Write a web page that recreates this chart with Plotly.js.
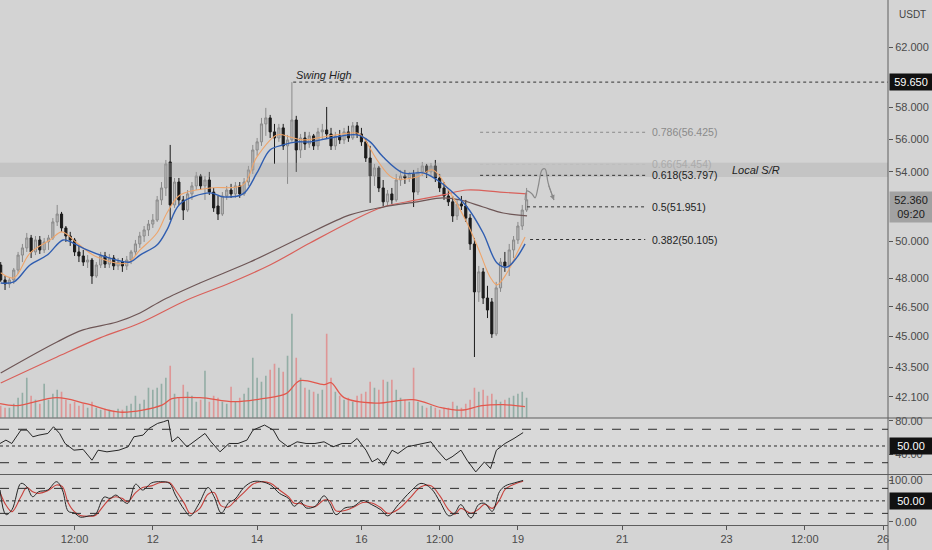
<!DOCTYPE html>
<html><head><meta charset="utf-8">
<script src="https://cdn.plot.ly/plotly-3.0.1.min.js"></script>
<style>html,body{margin:0;padding:0;background:#d4d4d4;}#chart{width:932px;height:550px;}</style>
</head><body><div id="chart"></div>
<script>
// ---------- DATA (2-hour candles, x = hours since day 9 00:00) ----------
const open = [48.71,47.91,47.70,47.91,48.44,49.25,49.64,50.19,49.42,50.08,
49.53,49.97,50.19,51.09,51.54,50.75,50.30,50.08,49.42,49.20,
48.87,48.98,48.12,48.71,49.20,48.76,49.09,48.66,48.87,48.66,
48.98,49.42,49.86,50.30,50.64,50.97,51.20,52.35,53.05,54.60,
52.06,53.40,52.35,51.77,52.70,53.17,53.76,53.17,53.52,52.81,
52.00,51.54,52.58,52.93,52.70,53.17,52.70,53.40,54.12,55.33,
55.83,56.95,57.33,56.45,56.07,56.70,55.58,55.95,57.20,55.33,
56.07,55.70,56.20,55.58,56.45,56.57,56.32,55.58,56.20,55.95,
56.45,56.07,56.83,56.32,55.83,54.84,53.76,54.24,53.05,52.24,
52.70,52.35,53.52,53.76,53.64,53.88,52.81,54.00,54.36,54.00,
54.36,53.64,53.05,52.58,52.24,51.43,52.12,52.00,51.31,49.86,
47.28,48.34,46.96,46.76,45.13,47.49,48.87,48.66,49.53,50.08,
50.86,51.77];
const high = [48.87,48.12,48.02,48.55,49.42,49.86,50.47,50.36,50.30,50.30,
50.19,50.36,51.31,52.06,51.66,50.86,50.53,50.19,49.75,49.53,
49.25,49.09,48.87,49.42,49.42,49.31,49.25,49.09,49.09,49.20,
49.53,50.08,50.53,50.86,51.20,51.54,52.58,53.40,54.72,55.64,
53.64,53.64,52.58,52.93,53.40,54.00,53.88,53.76,54.00,53.05,
52.58,52.81,53.17,53.29,53.40,53.40,53.64,54.36,55.64,56.07,
57.33,57.97,57.52,56.95,56.95,56.95,56.26,59.65,57.46,56.32,
56.45,56.45,56.32,56.70,56.95,58.03,56.70,56.45,56.57,56.70,
56.83,57.07,57.07,56.70,56.07,55.58,54.48,54.36,53.52,52.93,
53.05,53.88,54.12,54.12,54.00,54.12,54.24,54.60,54.48,54.54,
54.72,53.88,53.40,52.93,52.58,52.35,52.58,52.35,51.54,50.19,
48.66,48.55,47.60,46.96,47.81,49.09,49.42,49.86,50.30,51.09,
52.06,53.05];
const low = [47.81,47.38,47.49,47.70,48.23,48.87,49.42,49.09,49.25,49.31,
49.36,49.53,50.08,50.86,50.53,49.97,49.75,49.20,48.87,48.66,
48.55,47.70,48.02,48.55,48.55,48.55,48.44,48.44,48.34,48.44,
48.76,49.20,49.64,49.97,50.30,50.75,51.09,52.06,52.58,51.20,
51.89,52.06,51.20,51.66,52.35,52.93,52.93,52.35,52.64,51.66,
51.20,51.43,52.35,52.47,52.47,52.47,52.58,53.17,53.88,54.97,
55.58,56.20,56.07,54.48,55.83,55.33,53.29,55.83,54.00,54.84,
55.33,55.46,55.33,55.33,55.95,56.07,55.33,55.33,55.70,55.70,
55.83,55.95,56.07,55.58,54.60,52.18,53.17,52.81,52.00,52.00,
52.12,52.24,53.17,53.29,53.40,51.94,52.64,53.76,53.64,53.76,
53.40,52.81,52.35,52.00,51.09,51.20,51.77,51.09,49.53,43.99,
46.76,46.65,45.93,44.93,45.03,47.28,48.34,48.12,49.09,49.86,
50.64,51.66];
const close = [47.91,47.70,47.91,48.44,49.25,49.64,50.19,49.42,50.08,49.53,
49.97,50.19,51.09,51.54,50.75,50.30,50.08,49.42,49.20,48.87,
48.98,48.12,48.71,49.20,48.76,49.09,48.66,48.87,48.66,48.98,
49.42,49.86,50.30,50.64,50.97,51.20,52.35,53.05,54.48,52.06,
53.40,52.35,51.77,52.70,53.17,53.76,53.17,53.52,52.81,51.89,
51.54,52.58,52.93,52.70,53.17,52.70,53.40,54.12,55.33,55.83,
56.95,57.33,56.45,56.07,56.70,55.58,55.95,57.20,55.33,56.07,
55.70,56.20,55.58,56.45,56.57,56.32,55.58,56.20,55.95,56.45,
56.07,56.83,56.32,55.83,54.84,53.76,54.24,53.05,52.24,52.70,
52.35,53.52,53.76,53.64,53.88,52.81,54.00,54.36,54.00,54.36,
53.64,53.05,52.58,52.24,51.43,52.12,52.00,51.31,49.86,47.28,
48.34,46.96,46.34,45.13,47.49,48.87,48.66,49.53,50.08,50.86,
51.77,52.36];
const volume = [12,10,10,14,20,25,40,22,18,14,
34,18,24,28,26,18,14,16,12,14,
10,16,10,8,9,8,7,9,8,12,
14,22,14,18,30,28,30,34,40,52,
24,20,33,26,22,16,18,47,16,22,
20,16,14,31,16,20,24,30,60,40,
36,42,48,54,50,46,62,104,60,40,
30,28,26,24,28,84,40,26,22,18,
20,16,22,24,26,36,30,28,38,36,
38,28,20,18,16,50,16,12,10,12,
10,8,10,10,16,12,10,14,18,30,
26,28,22,24,18,16,18,20,22,24,
26,20];
const volMaHours = [1.7,9.5,27.9,41.3,56.9,76.2,80.8,93.7,109.4,122.3,133.3,139.7,150.8,154.0,160.0,174.3,191.8,204.7,213.9,223.5,233.2,243.3];
const volMa = [14,12,20,14,5.5,12.5,19,20,16,19,24,37,33,35,20,14.5,18,10,7.5,12,13,11];

const ema1Hours = [2,8.1,15.5,24.7,30.2,37.1,46.3,60.1,66.1,73.9,78.5,84.5,98.3,113.5,119.9,129.2,135.1,141.1,150.3,166.0,168.7,175.2,182.5,193.6,200.9,208.8,216.6,222.6,227.2,230.4,235.0,239.6,243.3];
const ema1 = [48.29,48.02,49.36,50.08,50.53,49.91,49.14,48.82,49.53,50.47,51.60,52.64,53.05,53.23,54.91,56.26,56.13,55.95,56.13,56.38,56.13,54.72,53.64,53.70,54.12,52.76,51.03,49.36,48.07,47.65,48.29,49.36,50.25];
const ema2Hours = [2,8.1,15.5,23.4,30.7,35.3,41.7,49.1,61.5,66.1,73.9,78.5,84.5,98.3,104.3,113.5,119.9,125.9,131.9,138.4,144.4,153.6,166.0,172.0,177.9,187.2,196.4,202.8,208.8,216.6,224.0,230.4,235.0,239.6,243.3];
const ema2 = [47.75,47.81,48.71,49.25,50.08,49.91,49.53,49.20,48.87,49.25,49.80,50.64,52.12,52.76,52.53,52.70,53.94,55.33,55.64,55.83,55.83,56.07,56.26,55.83,54.91,53.94,53.94,53.52,52.93,51.94,50.47,48.82,48.60,49.14,49.86];
const ma1Hours = [2,27.9,47.7,66.1,87.7,107.5,125.9,144.3,162.7,177.9,193.6,205.5,216.6,231.7,244.2];
const ma1 = [42.74,43.99,44.93,45.68,46.86,47.75,48.71,49.91,51.09,51.94,52.35,52.64,52.93,52.81,52.70];
const ma2Hours = [2,27.9,39.9,55.5,66.1,76.7,93.7,116.7,139.7,162.7,177.9,193.6,205.5,213.4,224.0,233.2,244.2];
const ma2 = [43.22,44.73,45.33,45.73,46.19,46.86,47.75,48.87,50.19,51.49,51.94,52.24,52.47,52.35,51.94,51.60,51.43];

const rsiHours = [1.7,4.4,7.1,11.3,14.1,16.8,19.6,23.7,26.3,29.1,31.6,35.7,39.9,44.0,46.8,50.9,56.4,60.6,63.3,67.5,70.3,74.2,76.9,79.1,80.8,83.6,87.7,91.9,96.0,98.8,102.9,107.1,111.2,115.3,118.1,123.4,127.5,130.1,134.2,138.4,142.5,146.6,150.8,154.9,159.1,163.2,166.0,170.1,172.9,175.6,178.2,182.1,184.8,189.0,193.1,195.9,200.0,202.8,206.9,209.7,213.8,216.6,220.6,224.6,227.4,230.1,234.1,238.2,242.4];
const rsi = [53,57,53,69,69,61,63,65,73,65,53,45,46,33,45,43,45,49,61,63,71,77,79,81,55,61,49,57,65,55,43,53,53,57,69,75,69,57,49,55,53,53,55,49,53,53,59,45,31,35,27,45,41,49,51,53,55,45,33,37,45,33,19,31,23,45,53,59,66];
const stochHours = [1.7,4.4,7.2,11.3,14.0,16.7,19.5,23.6,27.7,30.4,33.1,35.9,38.6,42.7,45.5,49.6,52.3,55.0,57.8,60.5,64.1,67.3,71.4,75.6,79.7,82.4,86.5,89.2,93.3,97.4,100.2,103.5,107.0,109.8,113.9,118.0,122.1,126.2,130.3,134.4,137.1,139.9,142.6,146.7,150.8,153.5,156.3,160.4,164.5,168.6,172.7,176.8,180.1,185.0,190.5,195.4,200.0,204.1,208.2,211.0,213.7,218.4,221.9,224.7,228.2,231.5,234.2,238.3,242.4];
const stochK = [76,17,29,92,84,60,72,76,96,76,25,21,11,14,17,59,56,64,52,44,90,76,93,96,92,64,29,14,44,82,60,21,46,54,82,96,96,88,68,56,37,48,33,37,62,43,17,33,37,51,41,29,14,41,72,92,80,48,14,21,41,9,41,44,25,72,86,93,99];
const stochD = [70,40,24,60,82,72,68,74,88,84,45,24,15,13,15,40,55,60,56,48,70,82,86,94,94,76,44,20,30,66,70,38,36,50,70,90,96,92,76,60,44,44,38,36,52,50,26,27,35,46,45,34,20,30,58,84,86,62,28,18,32,20,30,42,32,52,78,90,97];

const fibLevels = [0.786, 0.66, 0.618, 0.5, 0.382];
const fibPrices = [56.425, 54.454, 53.797, 51.951, 50.105];
const swingHigh = 59.65;
const srZone = [53.70, 54.55];
const lastPrice = 52.36;
const priceTicks = [62, 58, 56, 54, 50, 48, 46.5, 45, 43.5, 42.1];
const timeTicks = [36, 72, 120, 168, 204, 240, 288, 336, 372, 408];
const timeTickText = ['12:00','12','14','16','12:00','19','21','23','12:00','26'];
const sketchHours = [243.3,244.2,246.5,247.9,249.3,251.1,252.5,253.9,256.6];
const sketchPrices = [52.35,52.87,52.70,52.47,53.11,54.12,54.18,53.35,52.35];

// ---------- BUILD ----------
const FONT = 'Liberation Sans, Arial, sans-serif';
const hours = open.map((_, i) => 2 + 2 * i);
const X0 = 1.68, X1 = 410.3;
const volColors = open.map((o, i) => close[i] >= o ? 'rgba(125,160,150,0.75)' : 'rgba(225,135,135,0.8)');
const L = v => Math.log10(v);

const traces = [];
traces.push({type:'scatter', mode:'lines', x:[X0,X1,X1,X0,X0], y:[srZone[0],srZone[0],srZone[1],srZone[1],srZone[0]],
  fill:'toself', fillcolor:'rgba(170,170,170,0.35)', line:{width:0}, hoverinfo:'skip', xaxis:'x', yaxis:'y'});
traces.push({type:'scatter', mode:'lines', x:ma1Hours, y:ma1, line:{color:'#d9605a', width:1.2, shape:'spline'}, xaxis:'x', yaxis:'y'});
traces.push({type:'scatter', mode:'lines', x:ma2Hours, y:ma2, line:{color:'#6e5656', width:1.2, shape:'spline'}, xaxis:'x', yaxis:'y'});
traces.push({type:'scatter', mode:'lines', x:ema1Hours, y:ema1, line:{color:'#eea46a', width:1.1, shape:'spline'}, xaxis:'x', yaxis:'y'});
traces.push({type:'scatter', mode:'lines', x:ema2Hours, y:ema2, line:{color:'#2f5db0', width:1.4, shape:'spline'}, xaxis:'x', yaxis:'y'});
traces.push({type:'scatter', mode:'lines', x:[136.6, X1], y:[swingHigh, swingHigh], line:{color:'#333', width:1, dash:'dot'}, xaxis:'x', yaxis:'y'});
const fibStyle = [
  {x0:222.6, col:'#8a8a8a', lc:'#8a8a8a'},
  {x0:222.6, col:'#ababab', lc:'#bdbdbd'},
  {x0:222.6, col:'#1e1e1e', lc:'#333'},
  {x0:244.2, col:'#1e1e1e', lc:'#333'},
  {x0:245.6, col:'#1e1e1e', lc:'#333'}];
fibPrices.forEach((p, k) => {
  traces.push({type:'scatter', mode:'lines', x:[fibStyle[k].x0, 298.6], y:[p, p], line:{color:fibStyle[k].lc, width:1, dash:'dot'}, xaxis:'x', yaxis:'y'});
});
traces.push({type:'candlestick', x:hours, open:open, high:high, low:low, close:close, xaxis:'x', yaxis:'y',
  whiskerwidth:0,
  increasing:{line:{color:'#8a8a8a', width:1}, fillcolor:'#b9b9b9'},
  decreasing:{line:{color:'#1b1b1b', width:1}, fillcolor:'#1b1b1b'}});
traces.push({type:'scatter', mode:'lines', x:sketchHours, y:sketchPrices, line:{color:'#8a8a8a', width:1.2, shape:'spline'}, xaxis:'x', yaxis:'y'});
traces.push({type:'bar', x:hours, y:volume, width:0.75, marker:{color:volColors, line:{width:0}}, xaxis:'x', yaxis:'y4'});
traces.push({type:'scatter', mode:'lines', x:volMaHours, y:volMa, line:{color:'#e2574c', width:1.3, shape:'spline'}, xaxis:'x', yaxis:'y4'});
traces.push({type:'scatter', mode:'lines', x:rsiHours, y:rsi, line:{color:'#262626', width:1}, xaxis:'x', yaxis:'y2'});
traces.push({type:'scatter', mode:'lines', x:stochHours, y:stochD, line:{color:'#c8413c', width:1.1, shape:'spline'}, xaxis:'x', yaxis:'y3'});
traces.push({type:'scatter', mode:'lines', x:stochHours, y:stochK, line:{color:'#262626', width:1, shape:'spline'}, xaxis:'x', yaxis:'y3'});

const tickFont = {family:FONT, size:11, color:'#4a4a4a'};
const ann = [];
ann.push({xref:'paper', x:1, xanchor:'left', xshift:1, yref:'y', y:L(swingHigh), text:'59.650', showarrow:false,
  font:{family:FONT, size:11, color:'#fff'}, bgcolor:'#111', borderpad:2, width:38});
ann.push({xref:'paper', x:1, xanchor:'left', xshift:1, yref:'y', y:L(lastPrice), yanchor:'top', yshift:9, text:'52.360<br>09:20', showarrow:false,
  font:{family:FONT, size:11, color:'#1a1a1a'}, bgcolor:'#a2a2a2', borderpad:2, width:38});
ann.push({xref:'paper', x:1, xanchor:'left', xshift:1, yref:'y2', y:50, text:'50.00', showarrow:false,
  font:{family:FONT, size:11, color:'#fff'}, bgcolor:'#111', borderpad:2, width:38});
ann.push({xref:'paper', x:1, xanchor:'left', xshift:1, yref:'y3', y:50, text:'50.00', showarrow:false,
  font:{family:FONT, size:11, color:'#fff'}, bgcolor:'#111', borderpad:2, width:38});
ann.push({xref:'paper', x:0.9985, xanchor:'left', xshift:0, yref:'paper', y:0.0857, yanchor:'middle', text:'100.00', showarrow:false,
  font:{family:FONT, size:11, color:'#4a4a4a'}});
ann.push({xref:'paper', x:1, xanchor:'left', xshift:9, yref:'paper', y:1, yanchor:'top', yshift:-7, text:'USDT', showarrow:false,
  font:{family:FONT, size:10, color:'#444'}});
ann.push({xref:'x', x:136.8, xanchor:'left', yref:'y', y:L(swingHigh), yanchor:'bottom', yshift:-1, text:'<i>Swing High</i>', showarrow:false,
  font:{family:FONT, size:11, color:'#222'}});
ann.push({xref:'x', x:337.6, xanchor:'left', yref:'y', y:L(54.12), text:'<i>Local S/R</i>', showarrow:false,
  font:{family:FONT, size:11, color:'#222'}});
fibPrices.forEach((p, k) => {
  ann.push({xref:'x', x:300.9, xanchor:'left', yref:'y', y:L(p), text:fibLevels[k] + '(' + p.toFixed(3) + ')', showarrow:false,
    font:{family:FONT, size:10.5, color:fibStyle[k].col}});
});
ann.push({xref:'x', x:sketchHours[sketchHours.length-1], yref:'y', y:L(sketchPrices[sketchPrices.length-1]), text:'', showarrow:true,
  ax:-6, ay:-16, arrowhead:2, arrowsize:1, arrowwidth:1, arrowcolor:'#8a8a8a'});

const shapes = [];
shapes.push({type:'rect', xref:'paper', yref:'paper', x0:0, x1:1, y0:0, y1:0.2038, fillcolor:'#d9d9d9', line:{width:0}, layer:'below'});
[0.2038, 0.0962].forEach(v => shapes.push({type:'line', xref:'paper', yref:'paper', x0:0, x1:1.05, y0:v, y1:v, line:{color:'#5e5e5e', width:1.2}}));
shapes.push({type:'line', xref:'paper', yref:'paper', x0:1, x1:1, y0:-0.05, y1:1, line:{color:'#5e5e5e', width:1}});
[[70,'dash'],[50,'dot'],[30,'dash']].forEach(([v,d]) => shapes.push({type:'line', xref:'paper', yref:'y2', x0:0, x1:1, y0:v, y1:v, line:{color:'#2b2b2b', width:1, dash:d}}));
[[80,'dash'],[50,'dot'],[20,'dash']].forEach(([v,d]) => shapes.push({type:'line', xref:'paper', yref:'y3', x0:0, x1:1, y0:v, y1:v, line:{color:'#2b2b2b', width:1, dash:d}}));

const rightAxis = {side:'right', showgrid:false, zeroline:false, ticks:'outside', ticklen:4, tickcolor:'#555', showline:false,
  tickfont:tickFont, fixedrange:true};
const layout = {
  width:932, height:550, margin:{l:0, r:44, t:0, b:25},
  paper_bgcolor:'#d4d4d4', plot_bgcolor:'#d3d3d3', showlegend:false, hovermode:false,
  font:{family:FONT},
  xaxis:{range:[X0, X1], anchor:'y3', showgrid:false, zeroline:false, tickvals:timeTicks, ticktext:timeTickText,
    ticks:'outside', ticklen:4, tickcolor:'#555', showline:true, linecolor:'#5e5e5e', tickfont:tickFont,
    rangeslider:{visible:false}, fixedrange:true},
  yaxis:Object.assign({}, rightAxis, {domain:[0.2044, 1], type:'log', range:[L(41.13), L(65.33)],
    tickvals:priceTicks, ticktext:priceTicks.map(v => v.toFixed(3))}),
  yaxis2:Object.assign({}, rightAxis, {domain:[0.0962, 0.2029], range:[15.9, 82.9], tickvals:[80, 40], ticktext:['80.00','40.00']}),
  yaxis3:Object.assign({}, rightAxis, {domain:[0, 0.0952], range:[-7.9, 112], tickvals:[100, 0], ticktext:['', '0.00']}),
  yaxis4:{overlaying:'y', range:[0, 417.7], visible:false, fixedrange:true},
  annotations:ann, shapes:shapes
};
Plotly.newPlot('chart', traces, layout, {displayModeBar:false, staticPlot:true});
</script></body></html>
